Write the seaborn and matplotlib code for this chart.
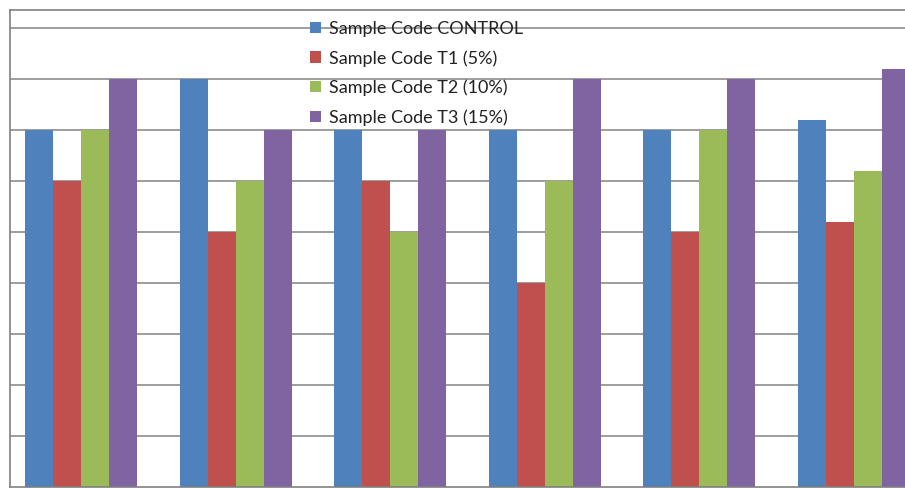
import pandas as pd
import seaborn as sns
import matplotlib.pyplot as plt

# 数据（按网格单位读取，纵轴标签在原图中被裁掉）
groups = ['G1', 'G2', 'G3', 'G4', 'G5', 'G6']
series = ['Sample Code CONTROL', 'Sample Code T1 (5%)',
          'Sample Code T2 (10%)', 'Sample Code T3 (15%)']
control = [7, 8, 7, 7, 7, 7.2]
t1 = [6, 5, 6, 4, 5, 5.2]
t2 = [7, 6, 5, 6, 7, 6.2]
t3 = [8, 7, 7, 8, 8, 8.2]
colors = ['#4F81BD', '#C0504D', '#9BBB59', '#8064A2']

df = pd.DataFrame({
    'group': groups * 4,
    'series': [s for s in series for _ in groups],
    'value': control + t1 + t2 + t3,
})

sns.set_style('white')
plt.rcParams['font.family'] = ['Lato', 'DejaVu Sans']

fig = plt.figure(figsize=(9.05, 4.88), dpi=100)
ax = fig.add_axes([10 / 905, 1 / 488, 895 / 905, 477 / 488])

sns.barplot(data=df, x='group', y='value', hue='series', palette=colors,
            width=0.725, gap=0, saturation=1, linewidth=0, ax=ax)

ax.set_xlim(-0.46, 5.33)
ax.set_ylim(0, 9.35)
ax.set_yticks(range(1, 10))
ax.yaxis.grid(True, color='#8c8c8c', linewidth=1.2)
ax.set_axisbelow(True)
ax.set_xticks([])
ax.set_yticklabels([])
ax.tick_params(left=False, bottom=False)
ax.set_xlabel('')
ax.set_ylabel('')
for side in ['left', 'top', 'bottom']:
    ax.spines[side].set_color('#808080')
    ax.spines[side].set_linewidth(1.2)
ax.spines['right'].set_visible(False)

# 图例
leg = ax.legend(loc='upper left', bbox_to_anchor=(310 / 905, 1 - 21 / 488),
                bbox_transform=fig.transFigure, frameon=False, fontsize=13,
                handlelength=0.6, handleheight=0.6, handletextpad=0.45,
                labelspacing=0.72, borderpad=0, borderaxespad=0)
for txt in leg.get_texts():
    txt.set_color('#222222')

plt.savefig('out.png', dpi=100)
